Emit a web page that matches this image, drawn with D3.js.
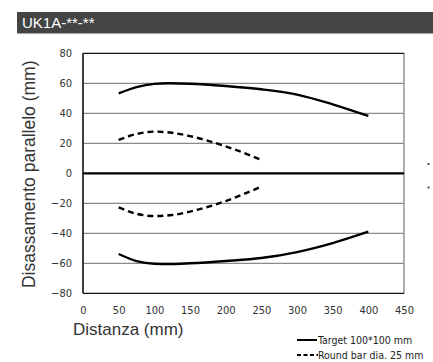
<!DOCTYPE html>
<html>
<head>
<meta charset="utf-8">
<script src="https://cdn.jsdelivr.net/npm/d3@7"></script>
<style>
  body { margin: 0; background: #fff; }
  svg { display: block; }
</style>
</head>
<body>
<svg id="chart" width="433" height="362"></svg>
<script>
// dati
let distanze = [50, 75, 100, 120, 150, 200, 250, 300, 350, 400]
let targetSup = [53.3, 57.5, 59.6, 60, 59.7, 58.2, 56, 52.5, 46, 38.2]
let targetInf = [-53.8, -58.5, -60.3, -60.5, -60, -58.5, -56.5, -52.5, -46.5, -38.9]

let distanzeBar = [50, 75, 100, 125, 150, 200, 250]
let barSup = [22.2, 26.2, 27.8, 27, 24.8, 18, 8.9]
let barInf = [-22.7, -27, -28.5, -27.8, -25.5, -18.5, -8.9]

let xTicks = [0, 50, 100, 150, 200, 250, 300, 350, 400, 450]
let yTicks = [80, 60, 40, 20, 0, -20, -40, -60, -80]

let titolo = "UK1A-**-**"
let legenda = ["Target 100*100 mm", "Round bar dia. 25 mm"]

let svg = d3.select("#chart")

let pLeft = 83, pRight = 404, pTop = 53.3, pBottom = 293.3

let xScale = d3.scaleLinear().domain([0, 450]).range([pLeft, pRight])
let yScale = d3.scaleLinear().domain([-80, 80]).range([pBottom, pTop])

// barra del titolo
svg.append("rect")
    .attr("x", 17).attr("y", 12)
    .attr("width", 416).attr("height", 21.5)
    .attr("fill", "#444444")
svg.append("text")
    .attr("x", 22).attr("y", 28)
    .attr("fill", "#ffffff")
    .style("font-family", "Liberation Sans, Arial, sans-serif")
    .style("font-size", "15px")
    .text(titolo)

// griglia
svg.selectAll(".grid")
    .data(yTicks.filter(d => d != 0 && Math.abs(d) != 80))
    .enter().append("line")
    .attr("x1", pLeft).attr("x2", pRight)
    .attr("y1", d => yScale(d)).attr("y2", d => yScale(d))
    .attr("stroke", "#8a8a8a").attr("stroke-width", 1.2)

// cornice
svg.append("line").attr("x1", pRight).attr("x2", pRight)
    .attr("y1", pTop).attr("y2", pBottom)
    .attr("stroke", "#999").attr("stroke-width", 1.6)
svg.append("line").attr("x1", pLeft).attr("x2", pRight)
    .attr("y1", pTop).attr("y2", pTop)
    .attr("stroke", "#111").attr("stroke-width", 1.3)
svg.append("line").attr("x1", pLeft).attr("x2", pRight)
    .attr("y1", pBottom).attr("y2", pBottom)
    .attr("stroke", "#111").attr("stroke-width", 1.3)
svg.append("line").attr("x1", pLeft).attr("x2", pRight)
    .attr("y1", yScale(0)).attr("y2", yScale(0))
    .attr("stroke", "#000").attr("stroke-width", 2.2)
svg.append("line").attr("x1", pLeft).attr("x2", pLeft)
    .attr("y1", pTop).attr("y2", pBottom)
    .attr("stroke", "#111").attr("stroke-width", 1.6)

// etichette assi
let tickFont = "DejaVu Sans Condensed, DejaVu Sans, sans-serif"

let yAxis = d3.axisLeft(yScale).tickValues(yTicks).tickSize(0).tickPadding(11)
let yAxisGroup = svg.append("g")
    .attr("transform", `translate(${pLeft},0)`)
    .call(yAxis)
yAxisGroup.select(".domain").remove()
yAxisGroup.selectAll("text")
    .style("font-family", tickFont)
    .style("font-size", "11px")
    .attr("fill", "#333")

let xAxis = d3.axisBottom(xScale).tickValues(xTicks).tickSize(0).tickPadding(13)
let xAxisGroup = svg.append("g")
    .attr("transform", `translate(0,${pBottom})`)
    .call(xAxis)
xAxisGroup.select(".domain").remove()
xAxisGroup.selectAll("text")
    .style("font-family", tickFont)
    .style("font-size", "11px")
    .attr("fill", "#333")

// titoli assi
svg.append("text")
    .attr("x", 73).attr("y", 335)
    .attr("fill", "#333")
    .style("font-family", "Liberation Sans, Arial, sans-serif")
    .style("font-size", "17px")
    .text("Distanza (mm)")

svg.append("text")
    .attr("transform", `translate(35,${(pTop + pBottom) / 2 + 1}) rotate(-90)`)
    .attr("text-anchor", "middle")
    .attr("fill", "#333")
    .style("font-family", "Liberation Sans, Arial, sans-serif")
    .style("font-size", "17.5px")
    .text("Disassamento parallelo (mm)")

// curve
let line = d3.line()
    .x(d => xScale(d[0]))
    .y(d => yScale(d[1]))
    .curve(d3.curveMonotoneX)

let serie = [
    { x: distanze, y: targetSup, dash: null },
    { x: distanze, y: targetInf, dash: null },
    { x: distanzeBar, y: barSup, dash: "6,4" },
    { x: distanzeBar, y: barInf, dash: "6,4" }
]

serie.forEach(s => {
    svg.append("path")
        .datum(s.x.map((d, i) => [d, s.y[i]]))
        .attr("d", line)
        .attr("fill", "none")
        .attr("stroke", "#000")
        .attr("stroke-width", 2.4)
        .attr("stroke-dasharray", s.dash)
})

// legenda
let legFont = "DejaVu Sans Condensed, DejaVu Sans, sans-serif"
svg.append("line")
    .attr("x1", 297).attr("x2", 317).attr("y1", 340).attr("y2", 340)
    .attr("stroke", "#000").attr("stroke-width", 2)
svg.append("text")
    .attr("x", 318).attr("y", 343.5)
    .attr("fill", "#222")
    .style("font-family", legFont).style("font-size", "10.5px")
    .text(legenda[0])
svg.append("line")
    .attr("x1", 297).attr("x2", 318).attr("y1", 355).attr("y2", 355)
    .attr("stroke", "#000").attr("stroke-width", 2)
    .attr("stroke-dasharray", "4,2.5")
svg.append("text")
    .attr("x", 318).attr("y", 358.5)
    .attr("fill", "#222")
    .style("font-family", legFont).style("font-size", "10.5px")
    .text(legenda[1])

// piccoli punti a destra
svg.selectAll(".dot")
    .data([164, 187.5])
    .enter().append("rect")
    .attr("x", 427.5).attr("y", d => d - 1)
    .attr("width", 2).attr("height", 2)
    .attr("fill", "#555")
</script>
</body>
</html>
